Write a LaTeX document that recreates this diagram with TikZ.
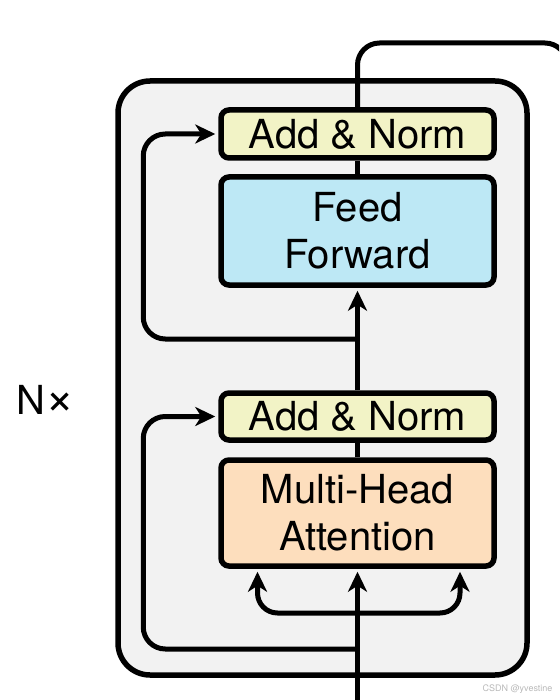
\documentclass[tikz,border=0pt]{standalone}
\usepackage{fontspec}
\setmainfont{TeX Gyre Heros}
\usetikzlibrary{arrows.meta,positioning,calc}

\definecolor{layergray}{HTML}{F2F2F2}
\definecolor{normyellow}{HTML}{F2F3C6}
\definecolor{ffblue}{HTML}{BDE8F5}
\definecolor{attnorange}{HTML}{FDDEBD}

\begin{document}
\begin{tikzpicture}[x=1pt,y=-1pt,
    block/.style={draw, line width=5.5pt, rounded corners=8pt, minimum width=273pt,
      align=center, inner sep=0pt, font=\fontsize{40}{47}\selectfont},
    wire/.style={line width=5pt},
    arr/.style={wire, -{Stealth[length=20pt,width=19pt,inset=6pt]}, shorten >=3pt}]

    % Page size and clipping
    \useasboundingbox (0,0) rectangle (559,700);
    \clip (0,0) rectangle (559,700);

    % Draw the encoder layer box
    \node[draw, line width=5.5pt, rounded corners=32pt, fill=layergray,
      minimum width=409pt, minimum height=594pt] (layer) at (322.5,378) {};

    % Draw the sub-layer blocks
    \node[block, fill=normyellow, minimum height=48pt] (norm2) at (357.5,134) {Add \& Norm};
    \node[block, fill=ffblue, minimum height=108pt] (ff) at (357.5,231) {Feed\\Forward};
    \node[block, fill=normyellow, minimum height=47pt] (norm1) at (357.5,416.5) {Add \& Norm};
    \node[block, fill=attnorange, minimum height=106pt] (mha) at (357.5,513) {Multi-Head\\Attention};

    % Label the repetition
    \node[font=\fontsize{40}{47}\selectfont] (nx) at (46,400) {N{\fontsize{50}{50}\selectfont ×}};

    % Coordinates on the main line
    \coordinate (in) at (357.5,706);
    \coordinate (split) at (357.5,613);
    \coordinate (res1) at (357.5,649);
    \coordinate (res2) at (357.5,339);

    % Input and the three attention inputs
    \draw[arr] (in) -- (mha.south);
    \draw[arr, rounded corners=20pt] (split) -| ([xshift=-100pt]mha.south);
    \draw[arr, rounded corners=20pt] (split) -| ([xshift=102.5pt]mha.south);

    % Residual connections
    \draw[arr, rounded corners=22pt] (res1) -| ([xshift=-75pt]norm1.west) -- (norm1.west);
    \draw[arr, rounded corners=22pt] (res2) -| ([xshift=-75pt]norm2.west) -- (norm2.west);

    % Lines between the blocks
    \draw[wire] (mha.north) -- (norm1.south);
    \draw[arr] (norm1.north) -- (ff.south);
    \draw[wire] (ff.north) -- (norm2.south);

    % Output going out of the layer
    \draw[wire, rounded corners=22pt] (norm2.north) |- (567,43) -- (567,160);

    % Watermark
    \node[text=gray!55, font=\fontsize{9}{10}\selectfont, anchor=east] (mark) at (556,689) {CSDN @yvestine};
\end{tikzpicture}
\end{document}
